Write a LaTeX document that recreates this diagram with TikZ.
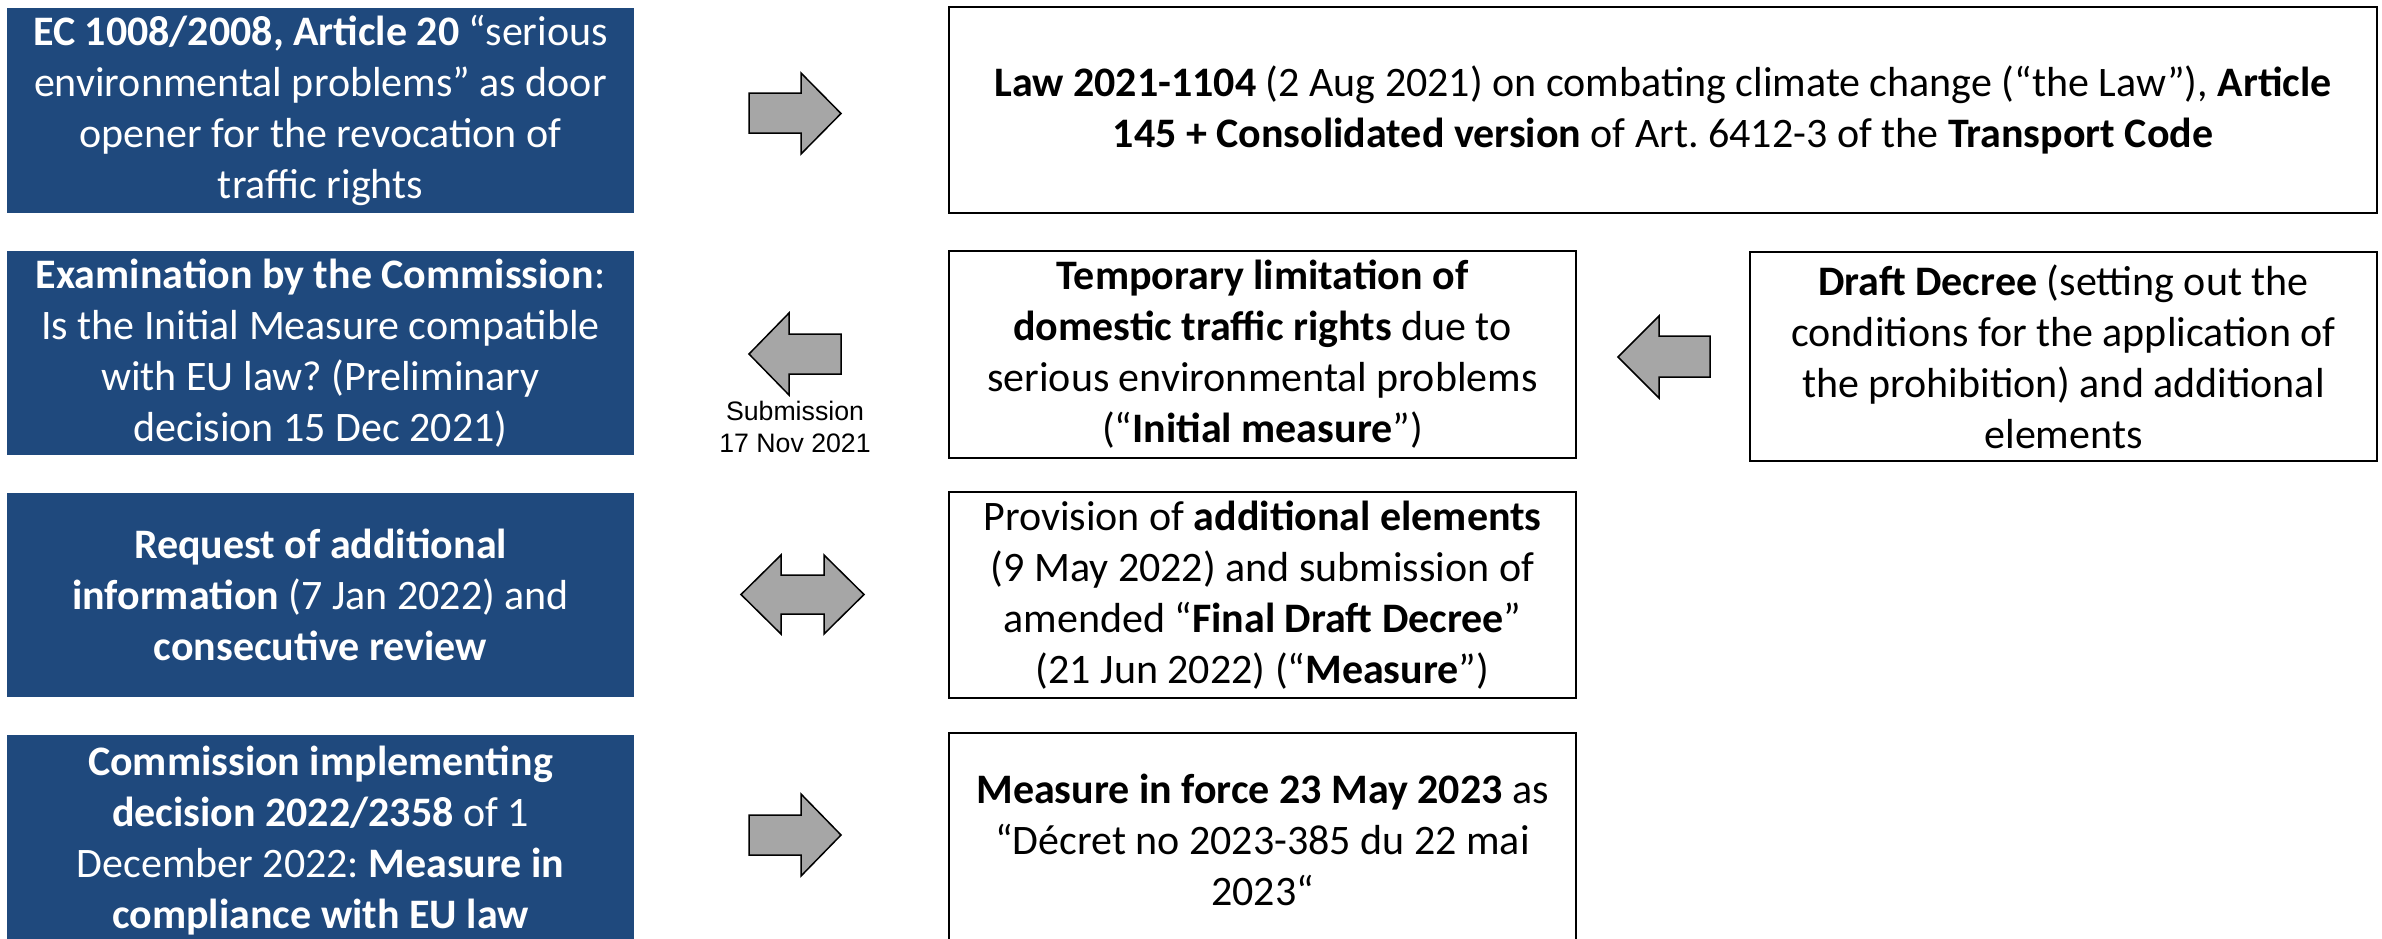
\documentclass[tikz,border=0pt]{standalone}
\usepackage{fontspec}
\setmainfont{Carlito}
\newfontfamily\arialf{Liberation Sans}
\definecolor{boxblue}{RGB}{31,73,125}
\definecolor{arrowgray}{RGB}{166,166,166}
\frenchspacing
\begin{document}
\begin{tikzpicture}[x=1pt,y=-1pt,
  bluebox/.style={fill=boxblue,draw=none,text=white,inner sep=0pt,outer sep=0pt,align=center,font=\fontsize{42}{51}\selectfont},
  whitebox/.style={fill=white,draw=black,line width=2pt,text=black,inner sep=0pt,outer sep=0pt,align=center,font=\fontsize{42}{51}\selectfont},
  blockarrow/.style={fill=arrowgray,draw=black,line width=1.5pt,line join=miter},
  smalllabel/.style={align=center,inner sep=0pt,font=\arialf\fontsize{26.7}{32}\selectfont}]
\useasboundingbox (0,0) rectangle (2382,938);
\clip (0,0) rectangle (2382,938);
\fill[white] (0,0) rectangle (2382,938);

% left blue boxes
\node[bluebox,minimum width=627pt,minimum height=205pt] (b1) at (320.5,110.5)
  {\textbf{EC 1008/2008, Article 20} “serious\\environmental problems” as door\\opener for the revocation of\\traffic rights};
\node[bluebox,minimum width=627pt,minimum height=204pt] (b2) at (320.5,353)
  {\textbf{Examination by the Commission}:\\Is the Initial Measure compatible\\with EU law? (Preliminary\\decision 15 Dec 2021)};
\node[bluebox,minimum width=627pt,minimum height=204pt] (b3) at (320.5,595)
  {\textbf{Request of additional}\\\textbf{information} (7 Jan 2022) and\\\textbf{consecutive review}};
\node[bluebox,minimum width=627pt,minimum height=211pt] (b4) at (320.5,840.5)
  {\textbf{Commission implementing}\\\textbf{decision 2022/2358} of 1\\December 2022: \textbf{Measure in}\\\textbf{compliance with EU law}};

% right white boxes
\node[whitebox,minimum width=1428pt,minimum height=206pt] (w1) at (1663,110)
  {\textbf{Law 2021-1104} (2 Aug 2021) on combating climate change (“the Law”), \textbf{Article}\\\textbf{145 + Consolidated version} of Art. 6412-3 of the \textbf{Transport Code}};
\node[whitebox,minimum width=627pt,minimum height=207pt] (w2) at (1262.5,354.5)
  {\textbf{Temporary limitation of}\\\textbf{domestic traffic rights} due to\\serious environmental problems\\(“\textbf{Initial measure}”)};
\node[whitebox,minimum width=627pt,minimum height=209pt] (w3) at (2063.5,356.5)
  {\textbf{Draft Decree} (setting out the\\conditions for the application of\\the prohibition) and additional\\elements};
\node[whitebox,minimum width=627pt,minimum height=206pt] (w4) at (1262.5,595)
  {Provision of \textbf{additional elements}\\(9 May 2022) and submission of\\amended “\textbf{Final Draft Decree}”\\(21 Jun 2022) (“\textbf{Measure}”)};
\node[whitebox,minimum width=627pt,minimum height=213pt] (w5) at (1262.5,839.5)
  {\textbf{Measure in force 23 May 2023} as\\“Décret no 2023-385 du 22 mai\\2023“};

% block arrows
\draw[blockarrow] (749,93) -- (801,93) -- (801,73) -- (841,113.5) -- (801,154) -- (801,133) -- (749,133) -- cycle;
\draw[blockarrow] (841,334) -- (789,334) -- (789,313) -- (749,354) -- (789,395) -- (789,374) -- (841,374) -- cycle;
\draw[blockarrow] (741,594.5) -- (781,555) -- (781,575) -- (824,575) -- (824,555) -- (864,594.5) -- (824,634) -- (824,614) -- (781,614) -- (781,634) -- cycle;
\draw[blockarrow] (749,815) -- (801,815) -- (801,794) -- (841,835) -- (801,876) -- (801,855) -- (749,855) -- cycle;
\draw[blockarrow] (1710,336) -- (1659,336) -- (1659,316) -- (1618,357) -- (1659,398) -- (1659,377) -- (1710,377) -- cycle;

\node[smalllabel] (sub) at (795,427) {Submission\\17 Nov 2021};
\end{tikzpicture}
\end{document}
